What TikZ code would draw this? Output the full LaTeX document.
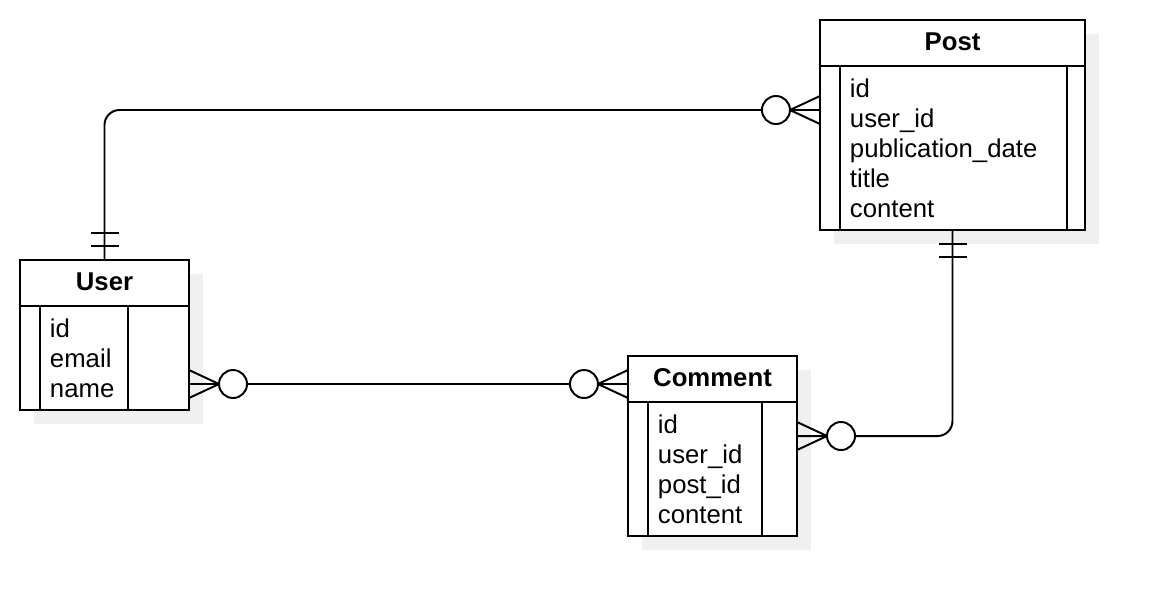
\documentclass[tikz,border=0pt]{standalone}
\usepackage{fontspec}
\setmainfont{Liberation Sans}
\usetikzlibrary{positioning, shadows}

\tikzset{
    zeromany/.pic={
        \draw (0,-14) -- (30,0) -- (0,14);
        \draw (0,0) -- (30,0);
        \draw [fill=white] (44,0) circle [radius=0.35cm];
    },
    onlyone/.pic={
        \draw (14,-14) -- (14,14);
        \draw (27,-14) -- (27,14);
    }
}

\begin{document}
\begin{tikzpicture}[x=0.025cm, y=-0.025cm, line width=1.4pt]
    \tikzstyle{shade} = [drop shadow={shadow xshift=0.35cm, shadow yshift=-0.35cm, fill=black!6, opacity=1}]
    \tikzstyle{entity} = [rectangle, minimum height=1.15cm, inner sep=0pt, outer sep=0pt, draw=black, fill=white, shade, font=\fontsize{18.3}{21.3}\selectfont\bfseries]
    \tikzstyle{attrs} = [rectangle, inner sep=0pt, outer sep=0pt, align=left, draw=black, fill=white, shade, font=\fontsize{18.3}{21.3}\selectfont]
    \tikzstyle{link} = [line width=1.4pt, rounded corners=0.375cm]

    \useasboundingbox (0,0) rectangle (1164,616);

    \node (user) [entity, minimum width=4.225cm] at (104.5,283) {\raisebox{1.5pt}{User}};
    \node (userattr) [attrs, below=0pt of user, minimum width=4.225cm, minimum height=2.6cm, text width=2.725cm] {id\\email\\name\\[-1pt]};

    \node (post) [entity, minimum width=6.625cm] at (952.5,43) {\raisebox{1.5pt}{Post}};
    \node (postattr) [attrs, below=0pt of post, minimum width=6.625cm, minimum height=4.1cm, text width=5.125cm] {id\\user\_id\\publication\_date\\title\\content\\[-1pt]};

    \node (comment) [entity, minimum width=4.225cm] at (712.5,379) {\raisebox{1.5pt}{Comment}};
    \node (commentattr) [attrs, below=0pt of comment, minimum width=4.225cm, minimum height=3.35cm, text width=2.725cm] {id\\user\_id\\post\_id\\content\\[-1pt]};

    % key columns
    \draw ([xshift=0.5cm]userattr.north west) -- ([xshift=0.5cm]userattr.south west);
    \draw ([xshift=-1.525cm]userattr.north east) -- ([xshift=-1.525cm]userattr.south east);
    \draw ([xshift=0.5cm]postattr.north west) -- ([xshift=0.5cm]postattr.south west);
    \draw ([xshift=-0.45cm]postattr.north east) -- ([xshift=-0.45cm]postattr.south east);
    \draw ([xshift=0.5cm]commentattr.north west) -- ([xshift=0.5cm]commentattr.south west);
    \draw ([xshift=-0.875cm]commentattr.north east) -- ([xshift=-0.875cm]commentattr.south east);

    % relations
    \coordinate (upost) at ([yshift=0.95cm]postattr.west);
    \coordinate (ucomm) at ([yshift=-0.65cm]userattr.east);
    \coordinate (pcomm) at ([yshift=0.825cm]commentattr.east);

    \draw [link] (user.north) |- (upost);
    \draw [link] (ucomm) -- (ucomm -| comment.west);
    \draw [link] (postattr.south) |- (pcomm);

    \path (user.north) pic [rotate=90] {onlyone};
    \path (upost) pic [rotate=180] {zeromany};
    \path (ucomm) pic {zeromany};
    \path (ucomm -| comment.west) pic [rotate=180] {zeromany};
    \path (postattr.south) pic [rotate=-90] {onlyone};
    \path (pcomm) pic {zeromany};
\end{tikzpicture}
\end{document}
